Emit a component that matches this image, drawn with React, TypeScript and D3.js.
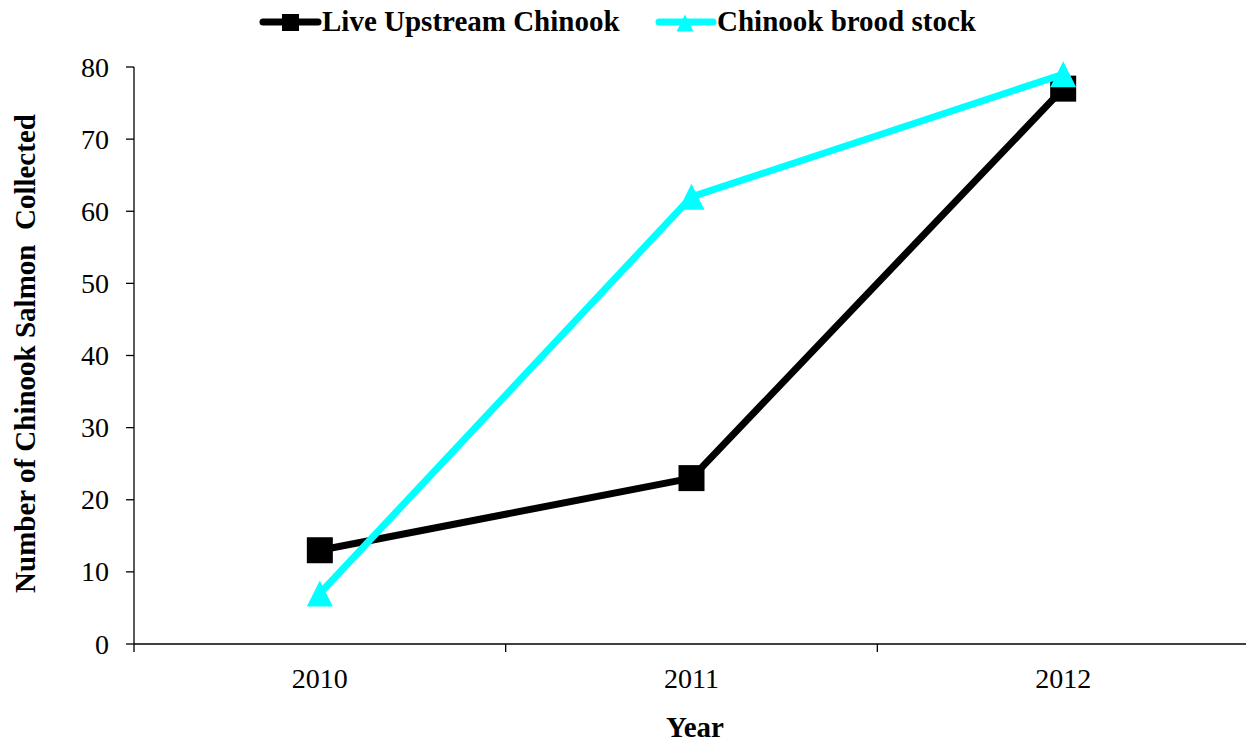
import React from "react";
import * as d3 from "d3";

const years = ["2010", "2011", "2012"];
const liveUpstream = [13, 23, 77];
const broodStock = [7, 62, 79];
const yTicks = [0, 10, 20, 30, 40, 50, 60, 70, 80];

const W = 1246;
const H = 743;
const left = 134;
const right = 1249;
const top = 67;
const bottom = 644;

const serif = "'Liberation Serif', 'Times New Roman', serif";

export default function App() {
  const x = d3.scalePoint<string>().domain(years).range([left, right]).padding(0.5);
  const band = d3.scaleBand<string>().domain(years).range([left, right]);
  const y = d3.scaleLinear().domain([0, 80]).range([bottom, top]);

  const line = d3
    .line<number>()
    .x((_, i) => x(years[i]) as number)
    .y((d) => y(d));

  const boundaries = years.map((yr) => band(yr) as number);

  const sq = 26;
  const tri = (cx: number, cy: number, s: number) =>
    `M${cx},${cy - s / 2} L${cx + s / 2},${cy + s / 2} L${cx - s / 2},${cy + s / 2} Z`;

  return (
    <svg
      width={W}
      height={H}
      style={{ position: "fixed", left: 0, top: 0, background: "#fff" }}
      fontFamily={serif}
    >
      <rect width={W} height={H} fill="#fff" />

      {/* Legend */}
      <g>
        <line x1={263} x2={318} y1={22} y2={22} stroke="#000" strokeWidth={7} strokeLinecap="round" />
        <rect x={282} y={14} width={17} height={17} fill="#000" />
        <text x={322} y={31} fontSize={29} fontWeight="bold" fill="#000">
          Live Upstream Chinook
        </text>
        <line x1={659} x2={713} y1={22} y2={22} stroke="#00FFFF" strokeWidth={7} strokeLinecap="round" />
        <path d={tri(685, 23, 17)} fill="#00FFFF" />
        <text x={717} y={31} fontSize={29} fontWeight="bold" fill="#000">
          Chinook brood stock
        </text>
      </g>

      {/* Y axis */}
      <line x1={left} x2={left} y1={top} y2={bottom} stroke="#000" strokeWidth={1.3} />
      {yTicks.map((t) => (
        <g key={t}>
          <line x1={left - 8} x2={left} y1={y(t)} y2={y(t)} stroke="#000" strokeWidth={1.3} />
          <text x={109} y={y(t)} dy="0.34em" textAnchor="end" fontSize={28} fill="#000">
            {t}
          </text>
        </g>
      ))}

      {/* X axis */}
      <line x1={left} x2={W} y1={bottom} y2={bottom} stroke="#000" strokeWidth={1.3} />
      {boundaries.map((b, i) => (
        <line key={i} x1={b} x2={b} y1={bottom} y2={bottom + 8} stroke="#000" strokeWidth={1.3} />
      ))}
      {years.map((yr) => (
        <text key={yr} x={x(yr)} y={688} textAnchor="middle" fontSize={28} fill="#000">
          {yr}
        </text>
      ))}

      {/* Axis titles */}
      <text x={695} y={737} textAnchor="middle" fontSize={29} fontWeight="bold" fill="#000">
        Year
      </text>
      <text
        transform={`translate(35, ${(top + bottom) / 2 - 2}) rotate(-90)`}
        textAnchor="middle"
        fontSize={29}
        fontWeight="bold"
        fill="#000"
        style={{ whiteSpace: "pre" }}
      >
        {"Number of Chinook Salmon  Collected"}
      </text>

      {/* Live Upstream Chinook */}
      <path d={line(liveUpstream) || ""} fill="none" stroke="#000" strokeWidth={7} strokeLinejoin="round" />
      {liveUpstream.map((v, i) => (
        <rect
          key={i}
          x={(x(years[i]) as number) - sq / 2}
          y={y(v) - sq / 2}
          width={sq}
          height={sq}
          fill="#000"
        />
      ))}

      {/* Chinook brood stock */}
      <path d={line(broodStock) || ""} fill="none" stroke="#00FFFF" strokeWidth={7} strokeLinejoin="round" />
      {broodStock.map((v, i) => (
        <path key={i} d={tri(x(years[i]) as number, y(v), sq)} fill="#00FFFF" />
      ))}
    </svg>
  );
}
